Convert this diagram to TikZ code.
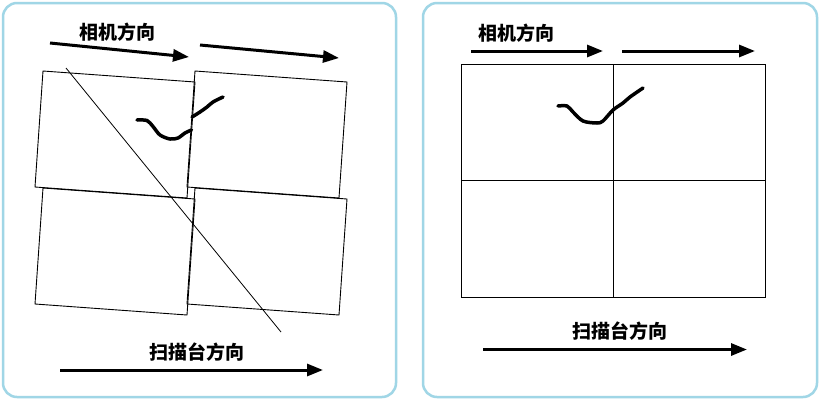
\documentclass[tikz,border=0pt]{standalone}
\usepackage{fontspec}
\usepackage{tikz}
\usetikzlibrary{arrows.meta}
\newfontfamily\cjk{Noto Sans CJK SC}
\definecolor{panelblue}{RGB}{160,214,230}

\tikzset{
	panel/.style={draw=panelblue, line width=2.5pt, rounded corners=14pt, fill=white},
	dirarrow/.style={line width=3pt, -{Triangle[length=16pt,width=12pt]}},
	frame/.style={line width=0.9pt},
	stroke/.style={line width=3.5pt, line cap=round, line join=round},
	dirlabel/.style={font=\cjk\bfseries\fontsize{19}{21}\selectfont, inner sep=0pt}
}

\begin{document}
\begin{tikzpicture}[x=1pt, y=-1pt]

\useasboundingbox (0,0) rectangle (820,400);
\fill[white] (0,0) rectangle (820,400);

\begin{scope}

\draw[panel] (3,3) rectangle (396,397);

\node[dirlabel] (camL) at (117,32) {相机方向};
\coordinate (a1s) at (50,43);
\coordinate (a1e) at (189,57);
\coordinate (a2s) at (200,45);
\coordinate (a2e) at (339,58);
\draw[dirarrow] (a1s)--(a1e);
\draw[dirarrow] (a2s)--(a2e);

% tilted frames
\foreach \x/\y in {43/71,195/71,43/188,195/188}{
	\draw[frame] (\x,\y)--++(152,11)--++(-8,116)--++(-152,-11)--cycle;
}

\coordinate (d1) at (66,68);
\coordinate (d2) at (281,332);
\draw[line width=0.8pt] (d1)--(d2);

\draw[stroke] plot[smooth] coordinates {(137,120) (147,120.5) (153,126.5) (160,135) (170,139) (178,138) (185,133) (191.5,130)};
\draw[stroke] plot[smooth] coordinates {(192,117) (200,112) (207,107) (213,102) (223,97)};

\node[dirlabel] (stageL) at (197,352) {扫描台方向};
\coordinate (b1s) at (60,370);
\coordinate (b1e) at (323,370);
\draw[dirarrow] (b1s)--(b1e);

\end{scope}

\begin{scope}

\draw[panel] (423,3) rectangle (817,397);

\node[dirlabel] (camR) at (516,33) {相机方向};
\coordinate (c1s) at (471,51);
\coordinate (c1e) at (603,51);
\coordinate (c2s) at (622,51);
\coordinate (c2e) at (755,51);
\draw[dirarrow] (c1s)--(c1e);
\draw[dirarrow] (c2s)--(c2e);

\draw[frame] (461.5,64.5) rectangle (765.5,297);
\draw[frame] (613.5,64.5)--(613.5,297);
\draw[frame] (461.5,180.5)--(765.5,180.5);

\draw[stroke] plot[smooth] coordinates {(558,106) (567,106) (573,112) (583,121) (597,123) (603,121) (613,110) (623,103) (630,97) (643,88)};

\node[dirlabel] (stageR) at (620,331) {扫描台方向};
\coordinate (e1s) at (483,349.5);
\coordinate (e1e) at (747,349.5);
\draw[dirarrow] (e1s)--(e1e);

\end{scope}

\end{tikzpicture}
\end{document}
